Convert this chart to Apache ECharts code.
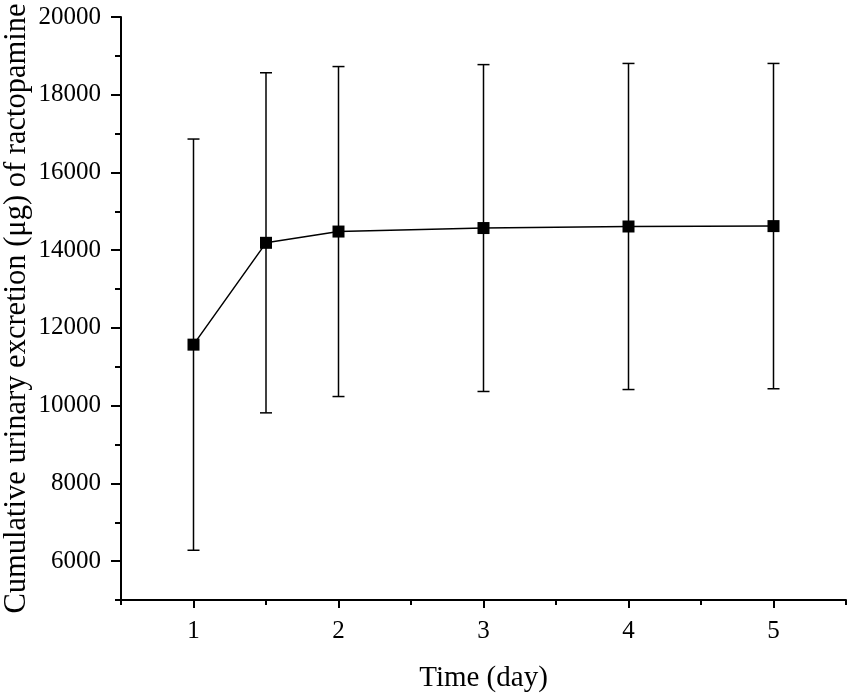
<!DOCTYPE html>
<html>
<head>
<meta charset="utf-8">
<script src="https://cdn.jsdelivr.net/npm/echarts@6/dist/echarts.min.js"></script>
<style>
  html, body { margin: 0; padding: 0; background: #fff; }
  #main { width: 851px; height: 698px; }
</style>
</head>
<body>
<div id="main"></div>
<script>
// data
var days = [1, 1.5, 2, 3, 4, 5];
var means = [11570, 14190, 14480, 14570, 14610, 14620];
var errs = [5290, 4375, 4245, 4205, 4195, 4185];

// ticks and labels
var xLabels = [1, 2, 3, 4, 5];
var xMinorTicks = [0.5, 1.5, 2.5, 3.5, 4.5, 5.5];
var yLabels = [6000, 8000, 10000, 12000, 14000, 16000, 18000, 20000];
var yMinorTicks = [5000, 7000, 9000, 11000, 13000, 15000, 17000, 19000];

var font = 'Liberation Serif';

var chart = echarts.init(document.getElementById('main'));

var errData = days.map(function (d, i) {
  return [d, means[i] - errs[i], means[i] + errs[i]];
});

function plain(v) { return String(v); }

var option = {
  backgroundColor: '#ffffff',
  animation: false,
  grid: { left: 121, right: 5, top: 17, bottom: 98, containLabel: false, outerBoundsMode: 'none' },
  xAxis: [{
    type: 'value',
    min: 0.5,
    max: 5.5,
    position: 'bottom',
    name: 'Time (day)',
    nameLocation: 'middle',
    nameGap: 64,
    nameTextStyle: { fontFamily: font, fontSize: 29, color: '#000' },
    axisLine: { lineStyle: { color: '#000', width: 2 } },
    axisTick: { customValues: xLabels, length: 8, lineStyle: { color: '#000', width: 2 } },
    axisLabel: { customValues: xLabels, formatter: plain, margin: 19, fontFamily: font, fontSize: 25, color: '#000' },
    splitLine: { show: false }
  }, {
    type: 'value',
    min: 0.5,
    max: 5.5,
    position: 'bottom',
    axisLine: { show: false },
    axisTick: { customValues: xMinorTicks, length: 5, lineStyle: { color: '#000', width: 2 } },
    axisLabel: { show: false },
    splitLine: { show: false }
  }],
  yAxis: [{
    type: 'value',
    min: 5000,
    max: 20000,
    name: 'Cumulative urinary excretion (\u03bcg) of ractopamine',
    nameLocation: 'middle',
    nameGap: 89,
    nameMoveOverlap: false,
    nameTextStyle: { fontFamily: font, fontSize: 30.5, color: '#000' },
    axisLine: { show: true, lineStyle: { color: '#000', width: 2 } },
    axisTick: { show: true, customValues: yLabels, length: 10, lineStyle: { color: '#000', width: 2 } },
    axisLabel: { customValues: yLabels, formatter: plain, margin: 20, fontFamily: font, fontSize: 25, color: '#000' },
    splitLine: { show: false }
  }, {
    type: 'value',
    min: 5000,
    max: 20000,
    position: 'left',
    axisLine: { show: false },
    axisTick: { show: true, customValues: yMinorTicks, length: 6, lineStyle: { color: '#000', width: 2 } },
    axisLabel: { show: false },
    splitLine: { show: false }
  }],
  series: [{
    type: 'custom',
    z: 1,
    data: errData,
    renderItem: function (params, api) {
      var x = api.value(0);
      var lo = api.coord([x, api.value(1)]);
      var hi = api.coord([x, api.value(2)]);
      var w = 6;
      var st = { stroke: '#000', lineWidth: 1.5 };
      return {
        type: 'group',
        children: [
          { type: 'line', shape: { x1: lo[0], y1: lo[1], x2: hi[0], y2: hi[1] }, style: st },
          { type: 'line', shape: { x1: hi[0] - w, y1: hi[1], x2: hi[0] + w, y2: hi[1] }, style: st },
          { type: 'line', shape: { x1: lo[0] - w, y1: lo[1], x2: lo[0] + w, y2: lo[1] }, style: st }
        ]
      };
    }
  }, {
    type: 'line',
    z: 2,
    data: days.map(function (d, i) { return [d, means[i]]; }),
    symbol: 'rect',
    symbolSize: 12,
    itemStyle: { color: '#000' },
    lineStyle: { color: '#000', width: 1.5 }
  }]
};

chart.setOption(option);
</script>
</body>
</html>
